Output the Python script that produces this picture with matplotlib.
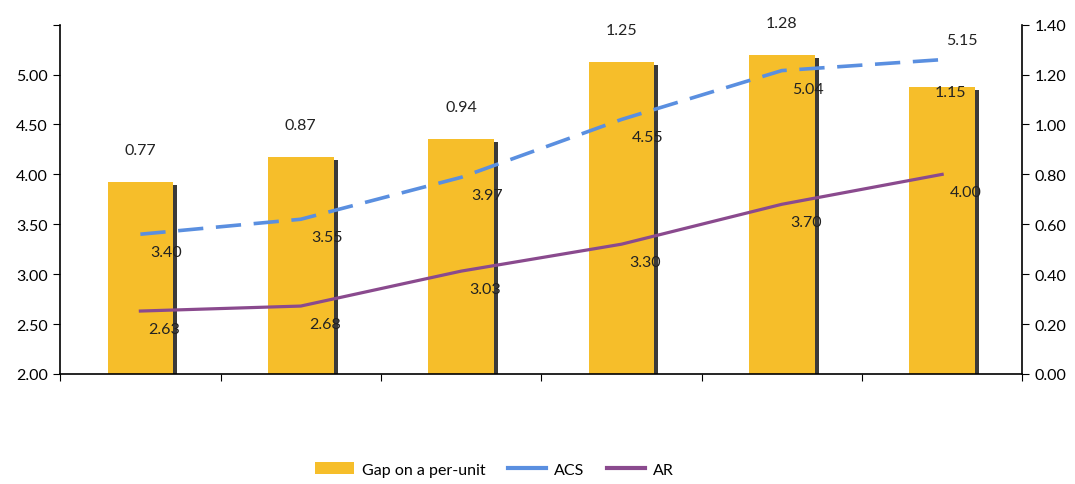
import numpy as np
import matplotlib.pyplot as plt
from matplotlib.patches import Patch
from matplotlib.lines import Line2D

# -------------------------
# Data
# -------------------------
categories = ["1", "2", "3", "4", "5", "6"]
gap = [0.77, 0.87, 0.94, 1.25, 1.28, 1.15]      # right axis, bars
acs = [3.40, 3.55, 3.97, 4.55, 5.04, 5.15]      # left axis, dashed
ar = [2.63, 2.68, 3.03, 3.30, 3.70, 4.00]       # left axis, solid

left_ticks = [2.00, 2.50, 3.00, 3.50, 4.00, 4.50, 5.00, 5.50]
right_ticks = [0.00, 0.20, 0.40, 0.60, 0.80, 1.00, 1.20, 1.40]

bar_color = "#F6BE2A"
shadow_color = "#3a3a3a"
acs_color = "#5A8FE0"
ar_color = "#8A4A8E"

plt.rcParams["font.family"] = ["Lato", "DejaVu Sans"]
plt.rcParams["font.size"] = 11.5

fig = plt.figure(figsize=(10.75, 4.85), dpi=100)
fig.patch.set_facecolor("white")

# bars on one axes (y-axis on the right), lines on its twin (y-axis on the left)
ax_bar = fig.add_axes([0.056, 0.227, 0.895, 0.72])
ax = ax_bar.twinx()

x = np.arange(len(categories))
w = 0.41

# dark "3d" edge on the right of each bar
ax_bar.bar(x + w / 2 + 0.012, np.array(gap) - 0.012, width=0.025,
           color=shadow_color, zorder=1)
ax_bar.bar(x, gap, width=w, color=bar_color, zorder=2)

ax_bar.set_xlim(-0.5, len(categories) - 0.5)
ax_bar.set_ylim(0, 1.40)
ax_bar.yaxis.tick_right()
ax_bar.yaxis.set_label_position("right")
ax_bar.set_yticks(right_ticks)
ax_bar.set_yticklabels([f"{v:.2f}" for v in right_ticks])
ax_bar.set_xticks(np.arange(-0.5, len(categories), 1.0))
ax_bar.set_xticklabels([])
ax_bar.tick_params(axis="x", direction="out", length=5)
ax_bar.tick_params(axis="y", direction="out", length=5, pad=4)
ax_bar.spines["top"].set_visible(False)
ax_bar.spines["left"].set_visible(False)
for s in ["right", "bottom"]:
    ax_bar.spines[s].set_linewidth(1.2)

ax.yaxis.tick_left()
ax.yaxis.set_label_position("left")
ax.plot(x, acs, color=acs_color, lw=2.6, dashes=(7, 3.5), zorder=3)
ax.plot(x, ar, color=ar_color, lw=2.3, zorder=3)
ax.set_ylim(2.0, 5.5)
ax.set_yticks(left_ticks)
ax.set_yticklabels([f"{v:.2f}" if v < 5.4 else "" for v in left_ticks])
ax.tick_params(axis="y", direction="out", length=5, pad=4)
ax.spines["top"].set_visible(False)
ax.spines["right"].set_visible(False)
ax.spines["bottom"].set_visible(False)
ax.spines["left"].set_visible(True)
ax.spines["left"].set_linewidth(1.2)

# data labels
n = len(categories)
for i in range(n):
    if i < n - 1:
        ax_bar.annotate(f"{gap[i]:.2f}", (x[i], gap[i]), xytext=(0, 32),
                        textcoords="offset pixels", ha="center", va="center",
                        color="#222222")
        ax.annotate(f"{acs[i]:.2f}", (x[i], acs[i]), xytext=(26, -18),
                    textcoords="offset pixels", ha="center", va="center",
                    color="#222222", zorder=5)
    else:
        # last category: ACS label sits above, gap label at bar top
        ax.annotate(f"{acs[i]:.2f}", (x[i], acs[i]), xytext=(20, 20),
                    textcoords="offset pixels", ha="center", va="center",
                    color="#222222", zorder=5)
        ax_bar.annotate(f"{gap[i]:.2f}", (x[i], gap[i]), xytext=(8, -5),
                        textcoords="offset pixels", ha="center", va="center",
                        color="#222222")
    ax.annotate(f"{ar[i]:.2f}", (x[i], ar[i]), xytext=(24, -18),
                textcoords="offset pixels", ha="center", va="center",
                color="#222222", zorder=5)

handles = [
    Patch(facecolor=bar_color, edgecolor="none"),
    Line2D([0], [0], color=acs_color, lw=3),
    Line2D([0], [0], color=ar_color, lw=3),
]
fig.legend(handles, ["Gap on a per-unit", "ACS", "AR"], loc="lower center",
           bbox_to_anchor=(0.46, -0.015), ncol=3, frameon=False,
           handlelength=2.4, handleheight=0.8, columnspacing=1.4,
           handletextpad=0.5)

fig.savefig("out.png", dpi=100, facecolor="white")
